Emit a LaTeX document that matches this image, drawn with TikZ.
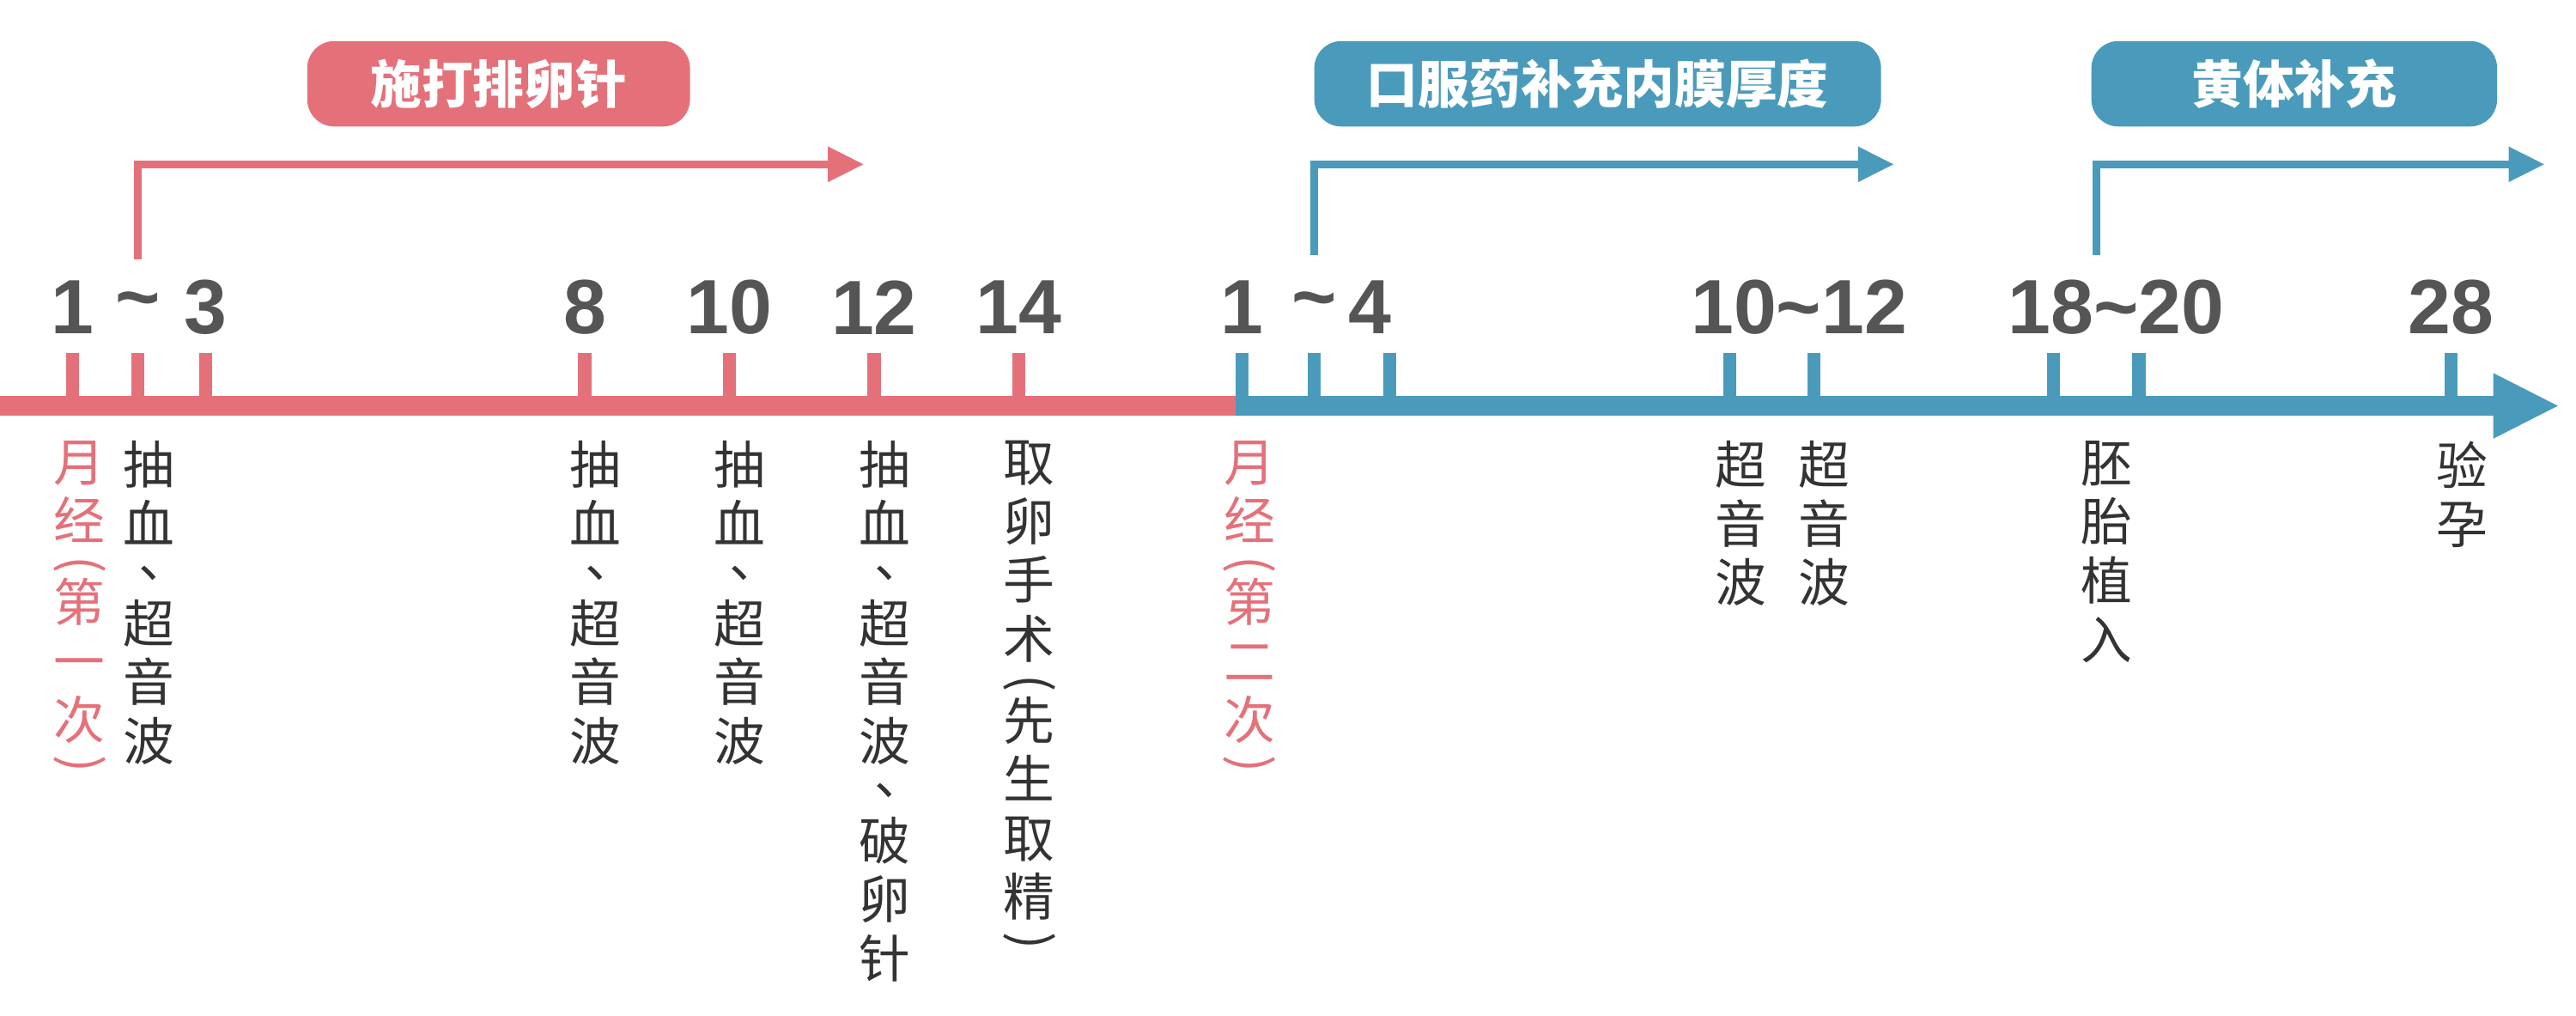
\documentclass[tikz,border=0pt]{standalone}
\usepackage{fontspec}
\setmainfont{Liberation Sans}
\newfontfamily\cjk{Noto Sans CJK SC}
\usetikzlibrary{arrows.meta}
\definecolor{cred}{HTML}{E4717A}
\definecolor{cblue}{HTML}{4A9BBB}
\definecolor{cgray}{HTML}{555555}
\definecolor{ctext}{HTML}{333333}
\newcommand{\lp}{\\[-6pt]\rotatebox[origin=c]{-90}{(}\\[-6pt]}
\newcommand{\rp}{\\[-6pt]\rotatebox[origin=c]{-90}{)}}
\newcommand{\dn}{\\[-3pt]\smash{\raisebox{0.3em}{\hspace*{0.3em}、}}\\[-3pt]}
\newcommand{\tld}{\char`\~}
\begin{document}
\begin{tikzpicture}[x=0.01913cm,y=-0.01913cm,
  num/.style={font=\fontsize{25.5}{30}\selectfont\bfseries, text=cgray, inner sep=0pt},
  vlab/.style={font=\cjk\fontsize{17}{19.5}\selectfont, text=ctext, align=center, text width=1em, inner sep=0pt, anchor=north},
  hdr/.style={rounded corners=9pt, text=white, font=\cjk\bfseries\fontsize{17}{20}\selectfont, minimum height=52*0.01913cm, inner sep=0pt},
  tickr/.style={cred, line width=8*0.01913cm},
  tickb/.style={cblue, line width=8*0.01913cm},
  brk/.style={line width=5*0.01913cm, -{Triangle[length=12pt,width=11pt]}}]
\useasboundingbox (0,0) rectangle (1568,618);
% axis
\coordinate (a0) at (0,247); \coordinate (am) at (752,247); \coordinate (ae) at (1558,247);
\draw[cred, line width=12*0.01913cm] (a0) -- (am);
\draw[cblue, line width=12*0.01913cm, -{Triangle[length=22pt,width=20pt]}] (am) -- (ae);
% ticks
\foreach \x in {44,84,125,356,444,532,620} \draw[tickr] (\x,215) -- (\x,247);
\foreach \x in {756,800,846,1053,1104,1250,1302,1492} \draw[tickb] (\x,215) -- (\x,247);
% numbers
\node[num] (n1) at (44,187) {1};
\node[num] (n2) at (84,187) {\tld};
\node[num] (n3) at (125,187) {3};
\node[num] (n4) at (356,187) {8};
\node[num] (n5) at (444,187) {10};
\node[num] (n6) at (532,187) {12};
\node[num] (n7) at (620,187) {14};
\node[num] (n8) at (756,187) {1};
\node[num] (n9) at (800,187) {\tld};
\node[num] (n10) at (834,187) {4};
\node[num] (n11) at (1095,187) {10\tld12};
\node[num] (n12) at (1288,187) {18\tld20};
\node[num] (n13) at (1492,187) {28};
% labels
\node[vlab, text=cred] (l1) at (42,268) {月\\经\lp 第\\一\\次\rp};
\node[vlab] (l2) at (84,268) {抽\\血\dn 超\\音\\波};
\node[vlab] (l3) at (356,268) {抽\\血\dn 超\\音\\波};
\node[vlab] (l4) at (444,268) {抽\\血\dn 超\\音\\波};
\node[vlab] (l5) at (532,268) {抽\\血\dn 超\\音\\波\dn 破\\卵\\针};
\node[vlab] (l6) at (620,268) {取\\卵\\手\\术\lp 先\\生\\取\\精\rp};
\node[vlab, text=cred] (l7) at (754,268) {月\\经\lp 第\\二\\次\rp};
\node[vlab] (l8) at (1053,268) {超\\音\\波};
\node[vlab] (l9) at (1104,268) {超\\音\\波};
\node[vlab] (l10) at (1276,268) {胚\\胎\\植\\入};
\node[vlab] (l11) at (1492,268) {验\\孕};
% headers
\node[hdr, fill=cred, minimum width=233*0.01913cm] (h1) at (303.5,51) {施打排卵针};
\node[hdr, fill=cblue, minimum width=345*0.01913cm] (h2) at (972.5,51) {口服药补充内膜厚度};
\node[hdr, fill=cblue, minimum width=247*0.01913cm] (h3) at (1396.5,51) {黄体补充};
% brackets
\coordinate (b1s) at (84,158); \coordinate (b1e) at (526,100);
\coordinate (b2s) at (800,155); \coordinate (b2e) at (1153,100);
\coordinate (b3s) at (1276,155); \coordinate (b3e) at (1549,100);
\draw[brk, cred] (b1s) |- (b1e);
\draw[brk, cblue] (b2s) |- (b2e);
\draw[brk, cblue] (b3s) |- (b3e);
\end{tikzpicture}
\end{document}
